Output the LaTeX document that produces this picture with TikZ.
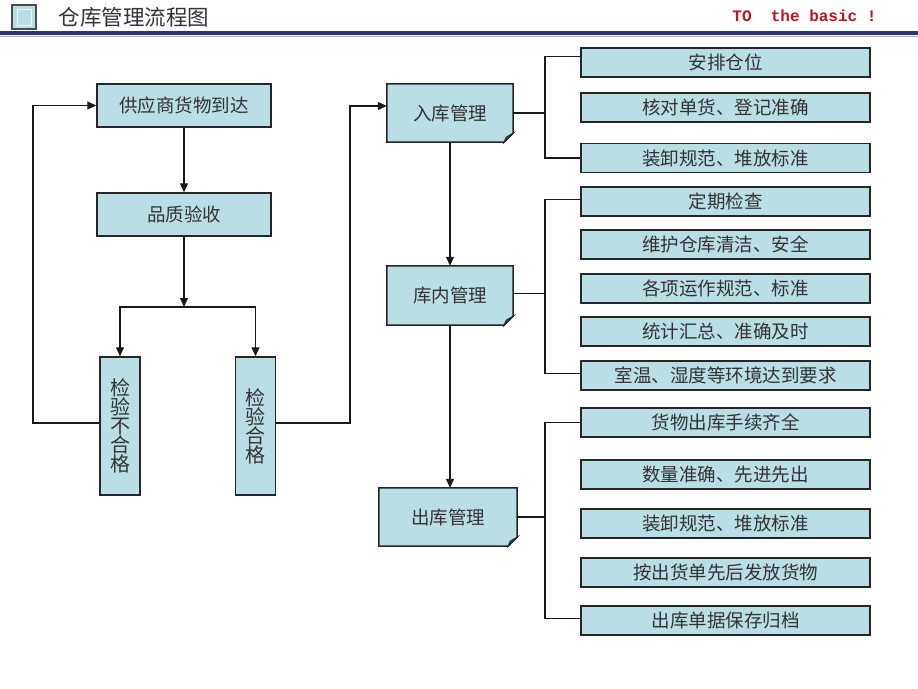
\documentclass[tikz,border=0pt]{standalone}
\usepackage{fontspec}
\newfontfamily\cjk{Noto Sans CJK SC}
\newfontfamily\monof{Liberation Mono}
\usetikzlibrary{arrows.meta}
\pgfdeclarelayer{bg}
\pgfsetlayers{bg,main}
\definecolor{boxc}{RGB}{185,222,228}
\definecolor{navyline}{RGB}{40,52,130}
\definecolor{redtxt}{RGB}{190,20,30}
\tikzset{
  box/.style={draw=black!85, line width=1.5pt, fill=boxc, inner sep=0pt, text=black!80,
    font=\cjk\fontsize{18.5}{20}\selectfont},
  fbox/.style={draw=none, fill=none, inner sep=0pt, text=black!80,
    font=\cjk\fontsize{18.5}{20}\selectfont},
  rbox/.style={box, minimum width=289pt, minimum height=29pt},
  vbox/.style={box, minimum width=40pt, minimum height=138pt, align=center,
    font=\cjk\fontsize{20}{20}\selectfont},
  lbox/.style={box, minimum width=174pt, minimum height=43pt},
  conn/.style={line width=1.3pt, black!90},
  arr/.style={conn, -{Triangle[width=8pt,length=9pt]}}
}
\begin{document}
\begin{tikzpicture}[x=1pt,y=-1pt]
\useasboundingbox (0,0) rectangle (918,688);
% header
\draw[black!70, line width=2pt, fill=boxc] (12,5) rectangle (36,29);
\draw[white!70!boxc, line width=1pt] (17,9) rectangle (31,25);
\node[anchor=west, text=black!80, font=\cjk\fontsize{21.5}{22}\selectfont] (title) at (55,17) {仓库管理流程图};
\node[anchor=east, text=redtxt, font=\monof\bfseries\fontsize{16}{18}\selectfont] (tag) at (880,16) {TO\ \ the basic !};
\draw[navyline, line width=3.2pt] (0,33) -- (918,33);
\draw[navyline!40, line width=0.8pt] (0,36) -- (918,36);

% left column
\node[lbox] (sup) at (184,105.5) {供应商货物到达};
\node[lbox] (qc) at (184,214.5) {品质验收};
\node[vbox] (bad) at (120,426) {检\\[-1pt]验\\[-1pt]不\\[-1pt]合\\[-1pt]格};
\node[vbox] (good) at (255.5,426) {检\\[-1pt]验\\[-1pt]合\\[-1pt]格};

% middle folded boxes
\node[fbox, minimum width=126pt, minimum height=58pt] (in) at (450,113) {入库管理};
\node[fbox, minimum width=126pt, minimum height=59pt] (inner) at (450,295.5) {库内管理};
\node[fbox, minimum width=138pt, minimum height=58pt] (out) at (448,517) {出库管理};
\begin{pgfonlayer}{bg}
\foreach \n in {in,inner,out}{
  \filldraw[draw=black!85, line width=1.5pt, fill=boxc]
    (\n.north west) -- (\n.north east) -- ([yshift=9pt]\n.south east)
    -- ([xshift=-9pt]\n.south east) -- (\n.south west) -- cycle;
  \filldraw[draw=black!85, line width=1pt, fill=black!60]
    ([yshift=9pt]\n.south east) -- ([xshift=-7pt,yshift=5pt]\n.south east)
    -- ([xshift=-9pt]\n.south east) -- cycle;
}
\end{pgfonlayer}

\coordinate (split) at (184,307);
\coordinate (fbL) at (33,0);
\coordinate (fbR) at (350,0);
\draw[arr] (sup.south) -- (qc.north);
\draw[arr] (qc.south) -- (split);
\draw[arr] (split) -| (bad.north);
\draw[arr] (split) -| (good.north);
\draw[arr] ([yshift=3pt]bad.west) -- ([yshift=3pt]bad.west -| fbL) |- (sup.west);
\draw[arr] ([yshift=3pt]good.east) -- ([yshift=3pt]good.east -| fbR) |- ([yshift=7pt]in.west);
\draw[arr] (in.south) -- (inner.north);
\draw[arr] (inner.south) -- (inner.south |- out.north);

% right column
\node[rbox] (r1) at (725.5,62.5) {安排仓位};
\node[rbox] (r2) at (725.5,107.5) {核对单货、登记准确};
\node[rbox] (r3) at (725.5,158) {装卸规范、堆放标准};
\node[rbox] (r4) at (725.5,201.5) {定期检查};
\node[rbox] (r5) at (725.5,244.5) {维护仓库清洁、安全};
\node[rbox] (r6) at (725.5,288.5) {各项运作规范、标准};
\node[rbox] (r7) at (725.5,331.5) {统计汇总、准确及时};
\node[rbox] (r8) at (725.5,375.5) {室温、湿度等环境达到要求};
\node[rbox] (r9) at (725.5,422.5) {货物出库手续齐全};
\node[rbox] (r10) at (725.5,474.5) {数量准确、先进先出};
\node[rbox] (r11) at (725.5,523.5) {装卸规范、堆放标准};
\node[rbox] (r12) at (725.5,572.5) {按出货单先后发放货物};
\node[rbox] (r13) at (725.5,620.5) {出库单据保存归档};
\coordinate (bx) at (545,0);
\draw[conn] (in.east) -- (in.east -| bx);
\draw[conn] ([yshift=6pt]r1.west) -- ([yshift=6pt]r1.west -| bx) -- (r3.west -| bx) -- (r3.west);
\draw[conn] ([yshift=2pt]inner.east) -- ([yshift=2pt]inner.east -| bx);
\draw[conn] ([yshift=2pt]r4.west) -- ([yshift=2pt]r4.west -| bx) -- ([yshift=2pt]r8.west -| bx) -- ([yshift=2pt]r8.west);
\draw[conn] (out.east) -- (out.east -| bx);
\draw[conn] (r9.west) -- (r9.west -| bx) -- ([yshift=2pt]r13.west -| bx) -- ([yshift=2pt]r13.west);
\end{tikzpicture}
\end{document}
